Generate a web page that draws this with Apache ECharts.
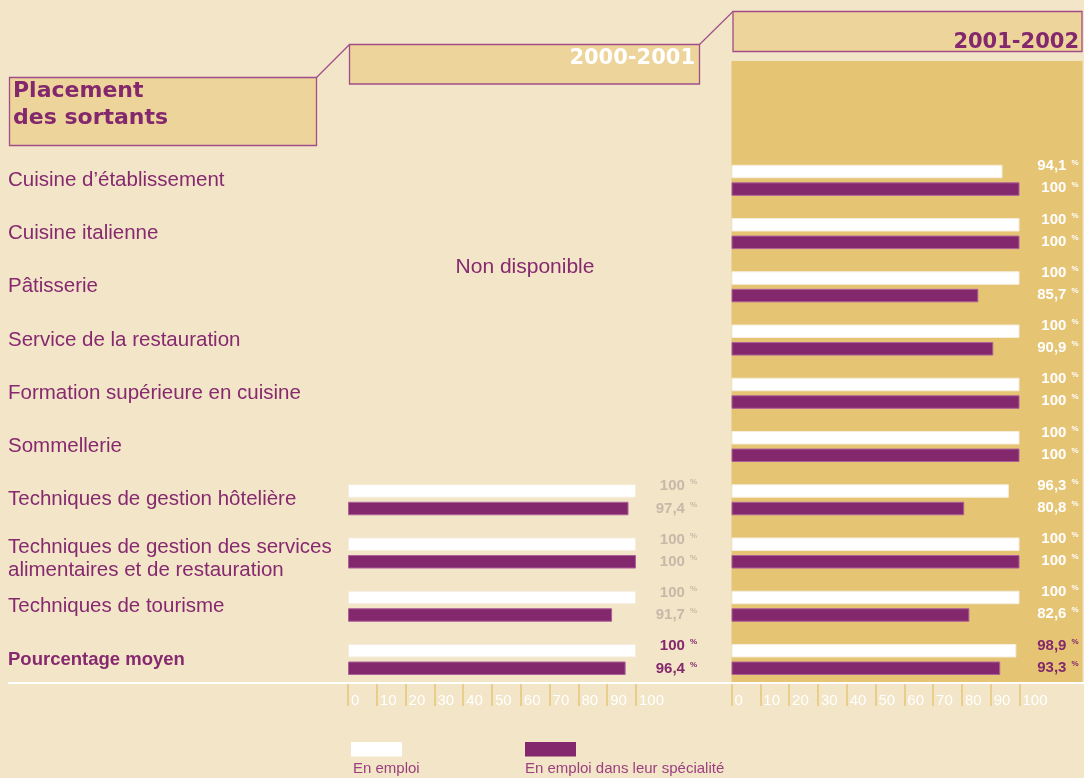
<!DOCTYPE html>
<html>
<head>
<meta charset="utf-8">
<script src="https://cdn.jsdelivr.net/npm/echarts@6/dist/echarts.min.js"></script>
<style>
html,body{margin:0;padding:0;background:#f3e5c7;}
#chart{width:1084px;height:778px;}
</style>
</head>
<body>
<div id="chart"></div>
<script>
// ---- data ----
const categories = [
  "Cuisine d’établissement",
  "Cuisine italienne",
  "Pâtisserie",
  "Service de la restauration",
  "Formation supérieure en cuisine",
  "Sommellerie",
  "Techniques de gestion hôtelière",
  "Techniques de gestion des services\nalimentaires et de restauration",
  "Techniques de tourisme",
  "Pourcentage moyen"
];
const emploi2000 = [null, null, null, null, null, null, 100, 100, 100, 100];
const specialite2000 = [null, null, null, null, null, null, 97.4, 100, 91.7, 96.4];
const emploi2001 = [94.1, 100, 100, 100, 100, 100, 96.3, 100, 100, 98.9];
const specialite2001 = [100, 100, 85.7, 90.9, 100, 100, 80.8, 100, 82.6, 93.3];
const tickValues = [0, 10, 20, 30, 40, 50, 60, 70, 80, 90, 100];
const seriesNames = ["En emploi", "En emploi dans leur spécialité"];
const periodTitles = ["2000-2001", "2001-2002"];
const chartTitle = "Placement\ndes sortants";
const unavailableText = "Non disponible";

// ---- styles ----
const BG = '#f3e5c7';
const HEAD = '#ecd49a';
const PANEL = '#e5c473';
const PURPLE = '#84286d';
const LINE = '#a24d8b';
const TXT = '#86296f';
const last = categories.length - 1;

const chart = echarts.init(document.getElementById('chart'), null, {renderer: 'canvas'});

function fmt(v) { return String(v).replace('.', ','); }

function barSeries(name, data, grid, color, border) {
  return {
    type: 'bar', name: name, xAxisIndex: grid, yAxisIndex: grid,
    data: data, barWidth: 13.5, barGap: '30%',
    itemStyle: {color: color, borderColor: border, borderWidth: 1},
    silent: true, animation: false
  };
}

function labelSeries(data, grid, dy, gap, color) {
  const pts = [];
  data.forEach((v, i) => { if (v != null) pts.push([v, i]); });
  return {
    type: 'custom', xAxisIndex: grid, yAxisIndex: grid, data: pts,
    silent: true, animation: false,
    renderItem: function (params, api) {
      const idx = api.value(1);
      const v = api.value(0);
      const p = api.coord([100, idx]);
      const c = idx === last ? PURPLE : color;
      return {
        type: 'text', x: p[0] + gap, y: p[1] + dy,
        style: {
          text: '{n|' + fmt(v) + '}{p|%}',
          align: 'right', verticalAlign: 'middle',
          rich: {
            n: {fontFamily: 'Liberation Sans', fontWeight: 'bold', fontSize: 15, fill: c, lineHeight: 16},
            p: {fontFamily: 'Liberation Sans', fontWeight: 'bold', fontSize: 8, fill: c, verticalAlign: 'top', padding: [0, 0, 0, 5], lineHeight: 10}
          }
        }
      };
    }
  };
}

const xAxisCommon = {
  type: 'value', min: 0, max: 100, interval: 10, offset: -3,
  axisLine: {show: true, lineStyle: {color: '#ffffff', width: 2}},
  axisTick: {show: true, length: 23, lineStyle: {color: '#e6c678', width: 1.5}},
  splitLine: {show: false},
  axisLabel: {
    show: true, color: '#ffffff', fontSize: 15, fontFamily: 'Liberation Sans',
    align: 'left', padding: [0, 0, 0, 3], margin: 10, interval: 0, hideOverlap: false,
    showMinLabel: true, showMaxLabel: true
  }
};

const option = {
  backgroundColor: BG,
  animation: false,
  grid: [
    {left: 348, width: 288, top: 153.7, height: 532.4},
    {left: 731.5, width: 288, top: 153.7, height: 532.4}
  ],
  xAxis: [
    Object.assign({gridIndex: 0}, xAxisCommon),
    Object.assign({gridIndex: 1}, xAxisCommon)
  ],
  yAxis: [
    {
      type: 'category', gridIndex: 0, inverse: true, data: categories,
      axisLine: {show: false}, axisTick: {show: false},
      axisLabel: {
        show: true, margin: 340, align: 'left', color: TXT, fontSize: 20.5,
        fontFamily: 'Liberation Sans', lineHeight: 24,
        formatter: function (v, i) {
          if (i === last) return '{b|' + v + '}';
          const parts = v.split('\n');
          if (parts.length > 1) return '{t|' + parts[0] + '}\n{u|' + parts[1] + '}';
          return v;
        },
        rich: {
          b: {fontWeight: 'bold', fontSize: 18.5, color: TXT, fontFamily: 'Liberation Sans'},
          t: {fontSize: 20.5, color: TXT, fontFamily: 'Liberation Sans', lineHeight: 34, verticalAlign: 'bottom'},
          u: {fontSize: 20.5, color: TXT, fontFamily: 'Liberation Sans', lineHeight: 24}
        }
      }
    },
    {
      type: 'category', gridIndex: 1, inverse: true, data: categories,
      axisLine: {show: false}, axisTick: {show: false}, axisLabel: {show: false}
    }
  ],
  series: [
    barSeries(seriesNames[0], emploi2000, 0, '#ffffff', '#f6eddc'),
    barSeries(seriesNames[1], specialite2000, 0, PURPLE, '#ad6199'),
    barSeries(seriesNames[0], emploi2001, 1, '#ffffff', '#f6eddc'),
    barSeries(seriesNames[1], specialite2001, 1, PURPLE, '#ad6199'),
    labelSeries(emploi2000, 0, -13.5, 61, '#c6b9a9'),
    labelSeries(specialite2000, 0, 9, 61, '#c6b9a9'),
    labelSeries(emploi2001, 1, -14, 59, '#ffffff'),
    labelSeries(specialite2001, 1, 8, 59, '#ffffff')
  ],
  graphic: [
    // right panel background
    {type: 'rect', z: -10, shape: {x: 731.5, y: 61, width: 351, height: 621}, style: {fill: PANEL}},
    // baseline across
    {type: 'line', z: 5, shape: {x1: 8, y1: 683, x2: 1084, y2: 683}, style: {stroke: '#ffffff', lineWidth: 2}},
    // header boxes
    {type: 'rect', shape: {x: 9.5, y: 77.5, width: 307, height: 68}, style: {fill: HEAD, stroke: LINE, lineWidth: 1.3}},
    {type: 'line', shape: {x1: 316.5, y1: 77.5, x2: 349.5, y2: 44.5}, style: {stroke: LINE, lineWidth: 1.2}},
    {type: 'rect', shape: {x: 349.5, y: 44.5, width: 350, height: 39.5}, style: {fill: HEAD, stroke: LINE, lineWidth: 1.3}},
    {type: 'line', shape: {x1: 699.5, y1: 44.5, x2: 733, y2: 11.5}, style: {stroke: LINE, lineWidth: 1.2}},
    {type: 'rect', shape: {x: 733, y: 11.5, width: 349, height: 40}, style: {fill: HEAD, stroke: LINE, lineWidth: 1.3}},
    {type: 'text', x: 13, y: 78, style: {text: chartTitle, fill: PURPLE, font: 'bold 22px "DejaVu Sans"', lineHeight: 27, align: 'left', verticalAlign: 'top'}},
    {type: 'text', x: 695, y: 58.5, style: {text: periodTitles[0], fill: '#ffffff', font: 'bold 21px "DejaVu Sans"', align: 'right', verticalAlign: 'middle'}},
    {type: 'text', x: 1079, y: 42.5, style: {text: periodTitles[1], fill: PURPLE, font: 'bold 21px "DejaVu Sans"', align: 'right', verticalAlign: 'middle'}},
    {type: 'text', x: 525, y: 267, style: {text: unavailableText, fill: TXT, font: '21px "Liberation Sans"', align: 'center', verticalAlign: 'middle'}},
    // legend
    {type: 'rect', shape: {x: 351, y: 742, width: 51, height: 14.5}, style: {fill: '#ffffff'}},
    {type: 'text', x: 353, y: 769, style: {text: seriesNames[0], fill: '#9b407f', font: '15px "Liberation Sans"', align: 'left', verticalAlign: 'middle'}},
    {type: 'rect', shape: {x: 525, y: 742, width: 51, height: 14.5}, style: {fill: PURPLE}},
    {type: 'text', x: 525, y: 769, style: {text: seriesNames[1], fill: '#9b407f', font: '15px "Liberation Sans"', align: 'left', verticalAlign: 'middle'}}
  ]
};
chart.setOption(option);
</script>
</body>
</html>
